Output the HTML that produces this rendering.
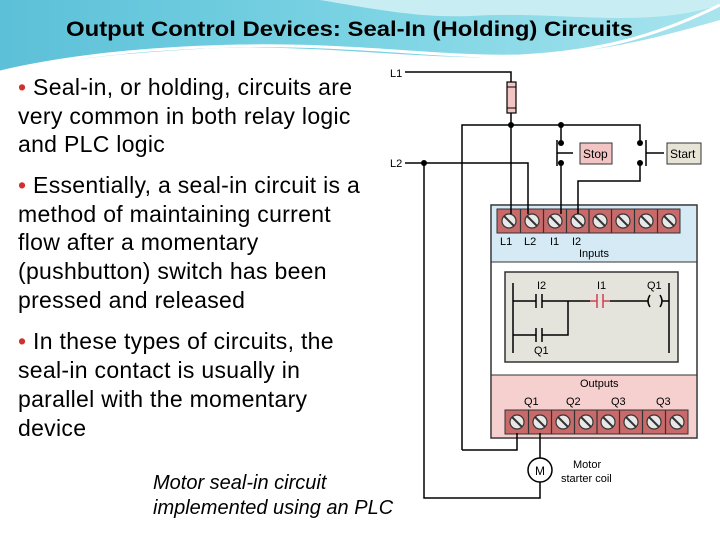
<!DOCTYPE html>
<html><head><meta charset="utf-8"><style>
body{margin:0;width:720px;height:540px;overflow:hidden;background:#fff;font-family:"Liberation Sans",sans-serif}
</style></head><body>
<svg width="720" height="540" viewBox="0 0 720 540" xmlns="http://www.w3.org/2000/svg" font-family="Liberation Sans, sans-serif">
<defs>
<linearGradient id="hg" x1="0" y1="0" x2="1" y2="0">
<stop offset="0" stop-color="#5cc0d8"/><stop offset="0.5" stop-color="#7ad3e3"/><stop offset="1" stop-color="#a8e4ee"/></linearGradient>
</defs>
<path d="M0 0 H720 V20 C650 40 600 52 520 57 C420 60 330 45 220 48 C120 52 50 62 0 72 Z" fill="url(#hg)"/>
<path d="M320 0 C380 10 420 18 470 16 C560 10 640 30 720 5 V0 Z" fill="#c8eef4"/>
<path d="M0 72 C60 58 140 48 240 46 C360 44 440 58 520 56 C600 52 660 35 720 5" fill="none" stroke="#fff" stroke-width="3"/>
<text x="66" y="36" textLength="567" lengthAdjust="spacingAndGlyphs" font-size="21" font-weight="bold" fill="#000">Output Control Devices: Seal-In (Holding) Circuits</text>

<g font-size="23" fill="#000" letter-spacing="0.3">
<text x="18" y="95"><tspan fill="#d03030">•</tspan> Seal-in, or holding, circuits are</text>
<text x="18" y="124">very common in both relay logic</text>
<text x="18" y="152">and PLC logic</text>
<text x="18" y="193"><tspan fill="#d03030">•</tspan> Essentially, a seal-in circuit is a</text>
<text x="18" y="222">method of maintaining current</text>
<text x="18" y="250">flow after a momentary</text>
<text x="18" y="279">(pushbutton) switch has been</text>
<text x="18" y="308">pressed and released</text>
<text x="18" y="349"><tspan fill="#d03030">•</tspan> In these types of circuits, the</text>
<text x="18" y="378">seal-in contact is usually in</text>
<text x="18" y="407">parallel with the momentary</text>
<text x="18" y="436">device</text>
</g>
<g font-size="20" font-style="italic" fill="#000">
<text x="153" y="489">Motor seal-in circuit</text>
<text x="153" y="514">implemented using an PLC</text>
</g>

<rect x="491" y="205" width="206" height="233" fill="#fff" stroke="#333" stroke-width="1.5"/>
<rect x="492" y="206" width="204" height="56" fill="#d5eaf4"/>
<line x1="491" y1="262" x2="697" y2="262" stroke="#333"/>
<rect x="492" y="375" width="204" height="62" fill="#f6cfcf"/>
<line x1="491" y1="375" x2="697" y2="375" stroke="#333"/>
<rect x="505" y="272" width="173" height="90" fill="#e4e4dc" stroke="#333" stroke-width="1.5"/>

<g stroke="#333" stroke-width="1">
<rect x="497" y="209" width="183" height="24" fill="#c86a6a"/>
<rect x="505" y="410" width="183" height="24" fill="#c86a6a"/>
</g>
<g stroke="#333" stroke-width="1.2" fill="#e8e8e8">
<g id="trow">
<circle cx="509" cy="221" r="7"/><circle cx="532" cy="221" r="7"/><circle cx="555" cy="221" r="7"/><circle cx="578" cy="221" r="7"/><circle cx="600" cy="221" r="7"/><circle cx="623" cy="221" r="7"/><circle cx="646" cy="221" r="7"/><circle cx="669" cy="221" r="7"/>
<path d="M504 216l10 10M527 216l10 10M550 216l10 10M573 216l10 10M595 216l10 10M618 216l10 10M641 216l10 10M664 216l10 10" stroke-width="2"/>
<line x1="520.5" y1="209" x2="520.5" y2="233"/><line x1="543.5" y1="209" x2="543.5" y2="233"/><line x1="566.5" y1="209" x2="566.5" y2="233"/><line x1="589" y1="209" x2="589" y2="233"/><line x1="611.5" y1="209" x2="611.5" y2="233"/><line x1="634.5" y1="209" x2="634.5" y2="233"/><line x1="657.5" y1="209" x2="657.5" y2="233"/>
</g>
<use href="#trow" x="8" y="201"/>
</g>

<g font-size="11" fill="#000">
<text x="500" y="245">L1</text><text x="524" y="245">L2</text><text x="550" y="245">I1</text><text x="572" y="245">I2</text>
<text x="579" y="257">Inputs</text>
<text x="580" y="387">Outputs</text>
<text x="524" y="405">Q1</text><text x="566" y="405">Q2</text><text x="611" y="405">Q3</text><text x="656" y="405">Q3</text>
<text x="390" y="77">L1</text><text x="390" y="167">L2</text>
<text x="573" y="468">Motor</text><text x="561" y="482">starter coil</text>
</g>

<g stroke="#000" stroke-width="1.5" fill="none">
<path d="M405 72 H511 V82"/>
<path d="M511 113 V214"/>
<path d="M462 450 V125 H640 V143"/>
<path d="M462 450 H517 V433"/>
<path d="M405 163 H528 V214"/>
<path d="M424 163 V498 H540 V482"/>
<path d="M540 458 V433"/>
<path d="M561 125 V143 M561 163 V214"/>
<path d="M640 163 V181 H578 V214"/>
<path d="M557 140 V166 M557 153 H573"/>
<path d="M646 140 V166 M646 153 H664"/>
</g>
<rect x="507" y="82" width="9" height="31" fill="#f2c4c4" stroke="#000" stroke-width="1.2"/>
<line x1="507" y1="87" x2="516" y2="87" stroke="#000"/><line x1="507" y1="108" x2="516" y2="108" stroke="#000"/>
<g fill="#000"><circle cx="511" cy="125" r="3"/><circle cx="561" cy="125" r="3"/><circle cx="424" cy="163" r="3"/>
<circle cx="561" cy="143" r="3"/><circle cx="561" cy="163" r="3"/><circle cx="640" cy="143" r="3"/><circle cx="640" cy="163" r="3"/></g>
<rect x="580" y="143" width="32" height="21" fill="#f2c4c4" stroke="#333"/>
<text x="583" y="158" font-size="12">Stop</text>
<rect x="667" y="143" width="34" height="21" fill="#e6e4d6" stroke="#333"/>
<text x="670" y="158" font-size="12">Start</text>
<circle cx="540" cy="470" r="12" fill="#fff" stroke="#000" stroke-width="1.5"/>
<text x="540" y="475" font-size="12" text-anchor="middle">M</text>

<g stroke="#000" stroke-width="1.5" fill="none">
<path d="M513 283 V353 M669 283 V353"/>
<path d="M513 301 H536 M536 294 V308 M542 294 V308 M542 301 H568 H590"/>
<path d="M513 335 H536 M536 328 V342 M542 328 V342 M542 335 H568 V301"/>
<path d="M610 301 H648 M662 301 H669"/>
<path d="M650 295 Q646 301 650 307 M660 295 Q664 301 660 307"/>
</g>
<path d="M590 301 H597 M597 294 V308 M603 294 V308 M603 301 H610" stroke="#d04050" stroke-width="1.5" fill="none"/>
<g font-size="11"><text x="537" y="289">I2</text><text x="597" y="289">I1</text><text x="647" y="289">Q1</text><text x="534" y="354">Q1</text></g>
</svg>
</body></html>
